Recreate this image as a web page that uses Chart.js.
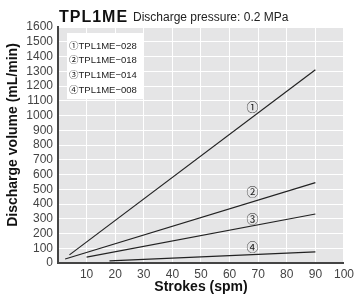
<!DOCTYPE html>
<html>
<head>
<meta charset="utf-8">
<script src="https://cdn.jsdelivr.net/npm/chart.js@4/dist/chart.umd.min.js"></script>
<style>
  html, body { margin: 0; padding: 0; background: #fff; }
</style>
</head>
<body>
<canvas id="chart" width="358" height="298"></canvas>
<script>
// data
const modelNames = ['TPL1ME−028', 'TPL1ME−018', 'TPL1ME−014', 'TPL1ME−008'];
const markers = ['①', '②', '③', '④'];
const strokesStart = [4, 2.5, 10, 18];
const strokesEnd = [90, 90, 90, 90];
const volumeStart = [55, 27, 40, 14];
const volumeEnd = [1310, 545, 332, 75];
const markerStroke = 68;
const markerVolume = [1045, 470, 285, 95];
const xTicks = [0, 10, 20, 30, 40, 50, 60, 70, 80, 90, 100];
const yTicks = [0, 100, 200, 300, 400, 500, 600, 700, 800, 900, 1000, 1100, 1200, 1300, 1400, 1500, 1600];

const FONT = '"Liberation Sans", Arial, "Noto Sans CJK JP", sans-serif';

const datasets = modelNames.map((name, i) => ({
  label: name,
  data: [
    { x: strokesStart[i], y: volumeStart[i] },
    { x: strokesEnd[i], y: volumeEnd[i] },
  ],
  showLine: true,
  borderColor: '#222',
  borderWidth: 1.2,
  pointRadius: 0,
}));

const decor = {
  id: 'decor',
  beforeDraw(chart) {
    const { ctx, chartArea: a } = chart;
    ctx.save();
    ctx.fillStyle = '#e5e5e6';
    ctx.fillRect(a.left, a.top, a.right - a.left, a.bottom - a.top);
    ctx.restore();
  },
  afterDraw(chart) {
    const { ctx, chartArea: a, scales: { x, y } } = chart;
    ctx.save();
    ctx.fillStyle = '#222';

    // circled numbers next to the lines
    ctx.font = '12px ' + FONT;
    ctx.textAlign = 'center';
    ctx.textBaseline = 'middle';
    markers.forEach((m, i) => {
      ctx.fillText(m, x.getPixelForValue(markerStroke), y.getPixelForValue(markerVolume[i]));
    });

    // legend box
    ctx.fillStyle = '#fff';
    ctx.fillRect(a.left + 9, a.top + 6, 77, 66);
    ctx.fillStyle = '#222';
    ctx.textAlign = 'left';
    ctx.font = '9.5px ' + FONT;
    modelNames.forEach((n, i) => {
      ctx.fillText(markers[i] + n, a.left + 11, a.top + 19 + i * 14.7);
    });

    // title
    ctx.textBaseline = 'alphabetic';
    ctx.font = 'bold 16px ' + FONT;
    ctx.letterSpacing = '1px';
    ctx.fillStyle = '#111';
    ctx.fillText('TPL1ME', a.left + 1, 22);
    ctx.letterSpacing = '0px';
    ctx.font = '12px ' + FONT;
    ctx.fillStyle = '#222';
    ctx.fillText('Discharge pressure: 0.2 MPa', 133, 21);

    // y axis title
    ctx.translate(13, 135);
    ctx.rotate(-Math.PI / 2);
    ctx.textAlign = 'center';
    ctx.textBaseline = 'middle';
    ctx.font = 'bold 14px ' + FONT;
    ctx.fillStyle = '#111';
    ctx.fillText('Discharge volume (mL/min)', 0, 0);
    ctx.restore();
  }
};

new Chart(document.getElementById('chart'), {
  type: 'scatter',
  data: { datasets },
  options: {
    responsive: false,
    animation: false,
    devicePixelRatio: 1,
    layout: { padding: { top: 27, right: 10, left: 0, bottom: 0 } },
    plugins: {
      legend: { display: false },
      tooltip: { enabled: false },
    },
    scales: {
      x: {
        type: 'linear',
        min: 0,
        max: 100,
        afterBuildTicks: scale => { scale.ticks = xTicks.map(v => ({ value: v })); },
        afterFit: scale => { scale.height = 35; },
        ticks: {
          padding: 4,
          autoSkip: false,
          maxRotation: 0,
          color: '#444',
          font: { family: FONT, size: 12 },
          callback: v => (v === 0 ? '' : String(v)),
        },
        grid: { color: '#fff', lineWidth: 1, drawTicks: false },
        border: { color: '#444', width: 2 },
        title: {
          display: true,
          text: 'Strokes (spm)',
          color: '#111',
          font: { family: FONT, size: 14, weight: 'bold' },
          padding: { top: 0, bottom: 2 },
        },
      },
      y: {
        type: 'linear',
        min: 0,
        max: 1600,
        afterBuildTicks: scale => { scale.ticks = yTicks.map(v => ({ value: v })); },
        afterFit: scale => { scale.width = 58; },
        ticks: {
          padding: 5,
          autoSkip: false,
          color: '#444',
          font: { family: FONT, size: 12 },
          callback: v => String(v),
        },
        grid: { color: '#fff', lineWidth: 1, drawTicks: false },
        border: { color: '#444', width: 2 },
      },
    },
  },
  plugins: [decor],
});
</script>
</body>
</html>
